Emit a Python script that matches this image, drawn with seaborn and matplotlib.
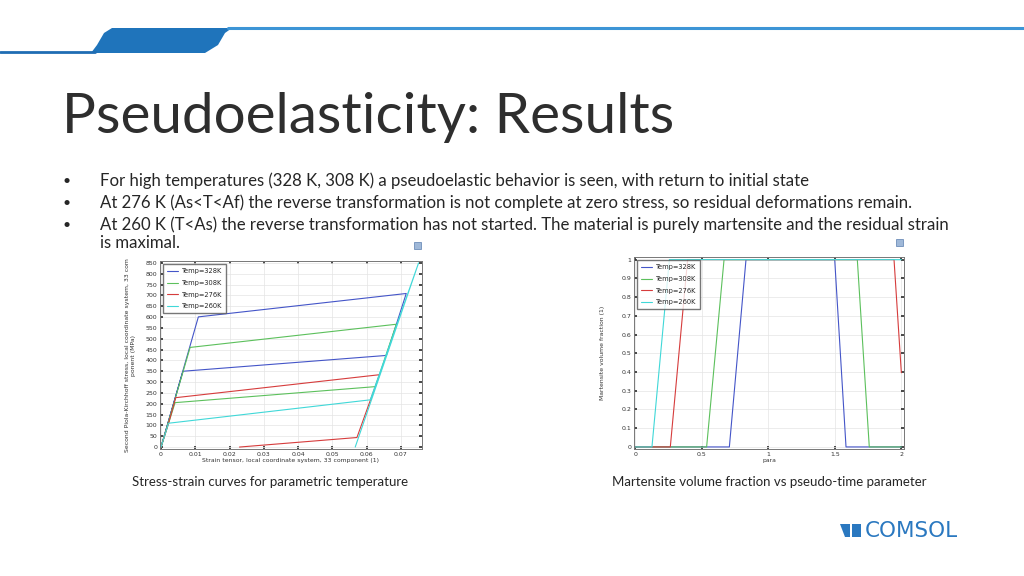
import numpy as np
import pandas as pd
import matplotlib
matplotlib.use("Agg")
import matplotlib.pyplot as plt
from matplotlib.patches import Polygon, Rectangle
from matplotlib.lines import Line2D
import seaborn as sns

# data
temps = ["Temp=328K", "Temp=308K", "Temp=276K", "Temp=260K"]
colors = ["#4455c8", "#5cc05c", "#d63c3c", "#40d8d8"]

strain_328 = [0, 0.0109, 0.0716, 0.0658, 0.0064, 0]
stress_328 = [0, 601, 709, 423, 350, 0]
strain_308 = [0, 0.0085, 0.0687, 0.0626, 0.0041, 0]
stress_308 = [0, 460, 567, 279, 205, 0]
strain_276 = [0, 0.0022, 0.0043, 0.0638, 0.0572, 0.0229]
stress_276 = [0, 110, 228, 334, 44, 0]
strain_260 = [0, 0.0022, 0.0611, 0.0752, 0.0567]
stress_260 = [0, 110, 218, 850, 0]

para_328 = [0, 0.707, 0.832, 1.499, 1.584, 2.0]
frac_328 = [0, 0, 1, 1, 0, 0]
para_308 = [0, 0.536, 0.667, 1.669, 1.759, 2.0]
frac_308 = [0, 0, 1, 1, 0, 0]
para_276 = [0, 0.263, 0.393, 1.945, 2.0]
frac_276 = [0, 0, 1, 1, 0.396]
para_260 = [0, 0.125, 0.256, 2.0]
frac_260 = [0, 0, 1, 1]

bullet_lines = [
    "For high temperatures (328 K, 308 K) a pseudoelastic behavior is seen, with return to initial state",
    "At 276 K (As<T<Af) the reverse transformation is not complete at zero stress, so residual deformations remain.",
    "At 260 K (T<As) the reverse transformation has not started. The material is purely martensite and the residual strain",
    "is maximal.",
]
bullet_marks = [True, True, True, False]

def long_df(xs, ys, xname, yname):
    rows = []
    for t, x, y in zip(temps, xs, ys):
        for i, (a, b) in enumerate(zip(x, y)):
            rows.append({"temp": t, "order": i, xname: a, yname: b})
    return pd.DataFrame(rows)

ss = long_df([strain_328, strain_308, strain_276, strain_260],
             [stress_328, stress_308, stress_276, stress_260], "strain", "stress")
vf = long_df([para_328, para_308, para_276, para_260],
             [frac_328, frac_308, frac_276, frac_260], "para", "frac")

sns.set_theme(style="whitegrid")
plt.rcParams["font.family"] = ["DejaVu Sans"]

fig = plt.figure(figsize=(10.24, 5.76), dpi=100)
W, H = 1024, 576
txt = "#262626"
slide_font = ["Lato", "DejaVu Sans"]

# header decoration
fig.add_artist(Line2D([0 / W, 95 / W], [1 - 52 / H, 1 - 52 / H], color="#1f6db3", lw=2))
fig.add_artist(Line2D([228 / W, 1], [1 - 28 / H, 1 - 28 / H], color="#3d95d6", lw=2.2))
tab = [(91, 53), (97, 45), (104, 33), (112, 28), (232, 28), (225, 33), (218, 45), (205, 53)]
fig.add_artist(Polygon([(x / W, 1 - y / H) for x, y in tab], closed=True,
                       facecolor="#1f74bb", edgecolor="none"))

fig.text(62 / W, 1 - 133 / H, "Pseudoelasticity: Results", fontsize=40.8,
         fontweight="normal", color="#2e2e2e", va="baseline", family=slide_font)

ys = [181, 203, 225, 243]
for y, b, m in zip(ys, bullet_lines, bullet_marks):
    if m:
        fig.text(62 / W, 1 - y / H, "•", fontsize=10, color=txt, va="center", family=slide_font)
    fig.text(100 / W, 1 - y / H, b, fontsize=12.1, color=txt, va="center", family=slide_font)

def style_ax(ax):
    ax.tick_params(direction="in", length=2, labelsize=4.5, pad=2, colors="#333333",
                   top=True, right=True, bottom=True, left=True)
    for s in ax.spines.values():
        s.set_color("#777777")
        s.set_linewidth(0.7)
    ax.grid(True, color="#e4e4e4", lw=0.5)

def style_legend(ax):
    ax.legend(loc="upper left", fontsize=4.8, frameon=True, fancybox=False, edgecolor="#555555",
              handlelength=1.6, handletextpad=0.6, borderpad=0.6, labelspacing=0.85, title=None)

# left chart
ax1 = fig.add_axes([160 / W, 1 - 449 / H, 262 / W, 188 / H])
sns.lineplot(data=ss, x="strain", y="stress", hue="temp", palette=colors, sort=False,
             estimator=None, units="temp", lw=0.8, ax=ax1)
ax1.set_xlim(-0.0003, 0.0762)
ax1.set_ylim(-9, 859)
ax1.set_xticks(np.arange(0, 0.071, 0.01))
ax1.set_xticklabels(["0", "0.01", "0.02", "0.03", "0.04", "0.05", "0.06", "0.07"])
ax1.set_yticks(np.arange(0, 851, 50))
ax1.set_xlabel("Strain tensor, local coordinate system, 33 component (1)", fontsize=4.4,
               labelpad=1, color="#333333")
ax1.set_ylabel("Second Piola-Kirchhoff stress, local coordinate system, 33 com\nponent (MPa)",
               fontsize=4.4, labelpad=7, color="#333333")
style_ax(ax1)
style_legend(ax1)

# right chart
ax2 = fig.add_axes([634 / W, 1 - 449 / H, 270 / W, 192 / H])
sns.lineplot(data=vf, x="para", y="frac", hue="temp", palette=colors, sort=False,
             estimator=None, units="temp", lw=0.8, ax=ax2)
ax2.set_xlim(-0.01, 2.02)
ax2.set_ylim(-0.011, 1.014)
ax2.set_xticks([0, 0.5, 1, 1.5, 2])
ax2.set_xticklabels(["0", "0.5", "1", "1.5", "2"])
ax2.set_yticks(np.arange(0, 1.01, 0.1))
ax2.set_yticklabels(["0"] + ["%.1f" % v for v in np.arange(0.1, 0.95, 0.1)] + ["1"])
ax2.set_xlabel("para", fontsize=4.4, labelpad=1, color="#333333")
ax2.set_ylabel("Martensite volume fraction (1)", fontsize=4.4, labelpad=12, color="#333333")
style_ax(ax2)
style_legend(ax2)

# tiny icons above charts
for x, y in [(414, 242), (896, 239)]:
    fig.add_artist(Rectangle((x / W, 1 - (y + 7) / H), 7 / W, 7 / H, facecolor="#9fb8d8",
                             edgecolor="#5b7fb0", lw=0.5))

fig.text(270 / W, 1 - 486 / H, "Stress-strain curves for parametric temperature", fontsize=9.5,
         color=txt, ha="center", va="baseline", family=slide_font)
fig.text(769 / W, 1 - 486 / H, "Martensite volume fraction vs pseudo-time parameter", fontsize=9.5,
         color=txt, ha="center", va="baseline", family=slide_font)

# COMSOL logo
fig.add_artist(Polygon([(840 / W, 1 - 524 / H), (850 / W, 1 - 524 / H), (850 / W, 1 - 537 / H),
                        (845 / W, 1 - 537 / H)], closed=True, facecolor="#2a78c0", edgecolor="none"))
fig.add_artist(Rectangle((852 / W, 1 - 537 / H), 9 / W, 13 / H, facecolor="#2a78c0", edgecolor="none"))
fig.text(865 / W, 1 - 531 / H, "COMSOL", fontsize=15.5, color="#2a78c0", va="center",
         family=["DejaVu Sans"])

fig.savefig("out.png", dpi=100)
